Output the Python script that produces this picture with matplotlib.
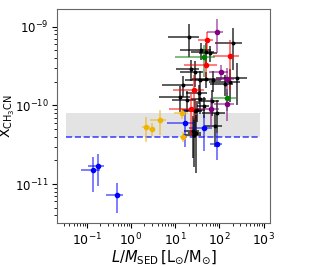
import numpy as np
import matplotlib.pyplot as plt

# black sample
k_x = [20.6, 198, 37.9, 49.2, 60.6, 22.2, 27.8, 36, 51, 71, 172, 248, 132, 12.7, 18.3,
       36, 30.8, 67.3, 87.3, 27.8, 25, 26.4, 29.2, 78.7, 44.4, 14.9, 34.7]
k_xe = [13.7, 120, 25, 26.6, 26, 12, 15, 19.5, 27.5, 38, 115, 165, 71, 8.5, 9.9,
        13.4, 16.6, 29, 47, 12, 9.3, 11.3, 9.3, 34, 14, 10, 17]
k_y = [7.5e-10, 6.2e-10, 5.02e-10, 4.81e-10, 4.67e-10, 2.9e-10, 2.68e-10, 2.12e-10, 2.18e-10,
       2.12e-10, 2.0e-10, 2.25e-10, 1.88e-10, 1.29e-10, 1.18e-10, 1.21e-10, 8.8e-11, 1.15e-10,
       8.05e-11, 8.5e-11, 4.75e-11, 4.23e-11, 4.48e-11, 5.5e-11, 9.9e-11, 1.83e-10, 1.43e-10]
k_ye = [3.4e-10, 3.4e-10, 1.2e-10, 1.43e-10, 1.1e-10, 0.86e-10, 0.96e-10, 0.63e-10, 0.51e-10,
        0.63e-10, 0.91e-10, 1.24e-10, 0.56e-10, 0.46e-10, 0.35e-10, 0.43e-10, 2.6e-11, 0.41e-10,
        3.65e-11, 3.6e-11, 2.6e-11, 2.6e-11, 3.1e-11, 2.5e-11, 2.9e-11, 0.54e-10, 0.4e-10]

# blue
b_x = [0.139, 0.175, 0.47, 16.5, 44.4, 87.3]
b_xe = [0.065, 0.07, 0.2, 10, 24, 25]
b_y = [1.49e-11, 1.69e-11, 7.3e-12, 5.96e-11, 5.14e-11, 3.25e-11]
b_ye = [0.7e-11, 0.75e-11, 0.3e-11, 3e-11, 2.5e-11, 1.2e-11]

# yellow
y_x = [2.24, 3.06, 4.49, 14.6, 15.4]
y_xe = [0.45, 0.5, 1.8, 5, 2.7]
y_y = [5.26e-11, 5.04e-11, 6.43e-11, 7.98e-11, 4.02e-11]
y_ye = [1.8e-11, 0.9e-11, 2.2e-11, 1.3e-11, 0.6e-11]

# green
g_x = [45.1, 152]
g_xe = [35, 80]
g_y = [4.07e-10, 1.24e-10]
g_ye = [1.8e-10, 4e-11]

# red
r_x = [52.7, 172, 51, 26.8, 22.2]
r_xe = [20, 100, 35, 18, 15]
r_y = [6.7e-10, 4.19e-10, 3.22e-10, 1.55e-10, 9.1e-11]
r_ye = [2e-10, 2.6e-10, 1e-10, 9e-11, 5e-11]

# purple
p_x = [88.7, 109, 145, 63, 145]
p_xe = [35, 50, 65, 35, 70]
p_y = [8.7e-10, 2.7e-10, 2.18e-10, 9.06e-11, 1.04e-10]
p_ye = [4e-10, 6e-11, 8e-11, 3.5e-11, 4e-11]

band_x = [0.034, 850]
band_lo, band_hi = 4e-11, 8e-11

fig = plt.figure(figsize=(3.09, 2.67), dpi=100)
ax = fig.add_axes([0.184, 0.165, 0.69, 0.801])

ax.fill_between(band_x, band_lo, band_hi, color='#e3e3e3', lw=0)
ax.plot(band_x, [band_lo, band_lo], '--', color='blue', alpha=0.7, lw=1.2)

ax.errorbar(k_x, k_y, xerr=k_xe, yerr=k_ye, fmt='o', color='black', ms=1.8,
            ecolor=(0, 0, 0, 0.75), elinewidth=1.2)
for xs, xe, ys, ye, c in [(b_x, b_xe, b_y, b_ye, 'blue'),
                          (y_x, y_xe, y_y, y_ye, '#f0b400'),
                          (g_x, g_xe, g_y, g_ye, 'green'),
                          (r_x, r_xe, r_y, r_ye, 'red'),
                          (p_x, p_xe, p_y, p_ye, 'purple')]:
    eb = ax.errorbar(xs, ys, xerr=xe, yerr=ye, fmt='o', color=c, ms=3,
                     elinewidth=1.2)
    for coll in eb[2]:
        coll.set_alpha(0.6)

ax.set_xscale('log')
ax.set_yscale('log')
ax.set_xlim(0.021, 1400)
ax.set_ylim(3.2e-12, 1.68e-9)

for s in ax.spines.values():
    s.set_color('0.4')
ax.tick_params(labelsize=9, pad=2.5)
ax.tick_params(axis='y', labelsize=8.5)
ax.set_xlabel(r'$L/M_{\rm SED}\,[\rm L_{\odot}/M_{\odot}]$', fontsize=10.5, labelpad=0)
ax.set_ylabel(r'X$_{\rm CH_3CN}$', fontsize=10)
ax.yaxis.set_label_coords(-0.188, 0.5)

plt.savefig('out.png', dpi=100)
